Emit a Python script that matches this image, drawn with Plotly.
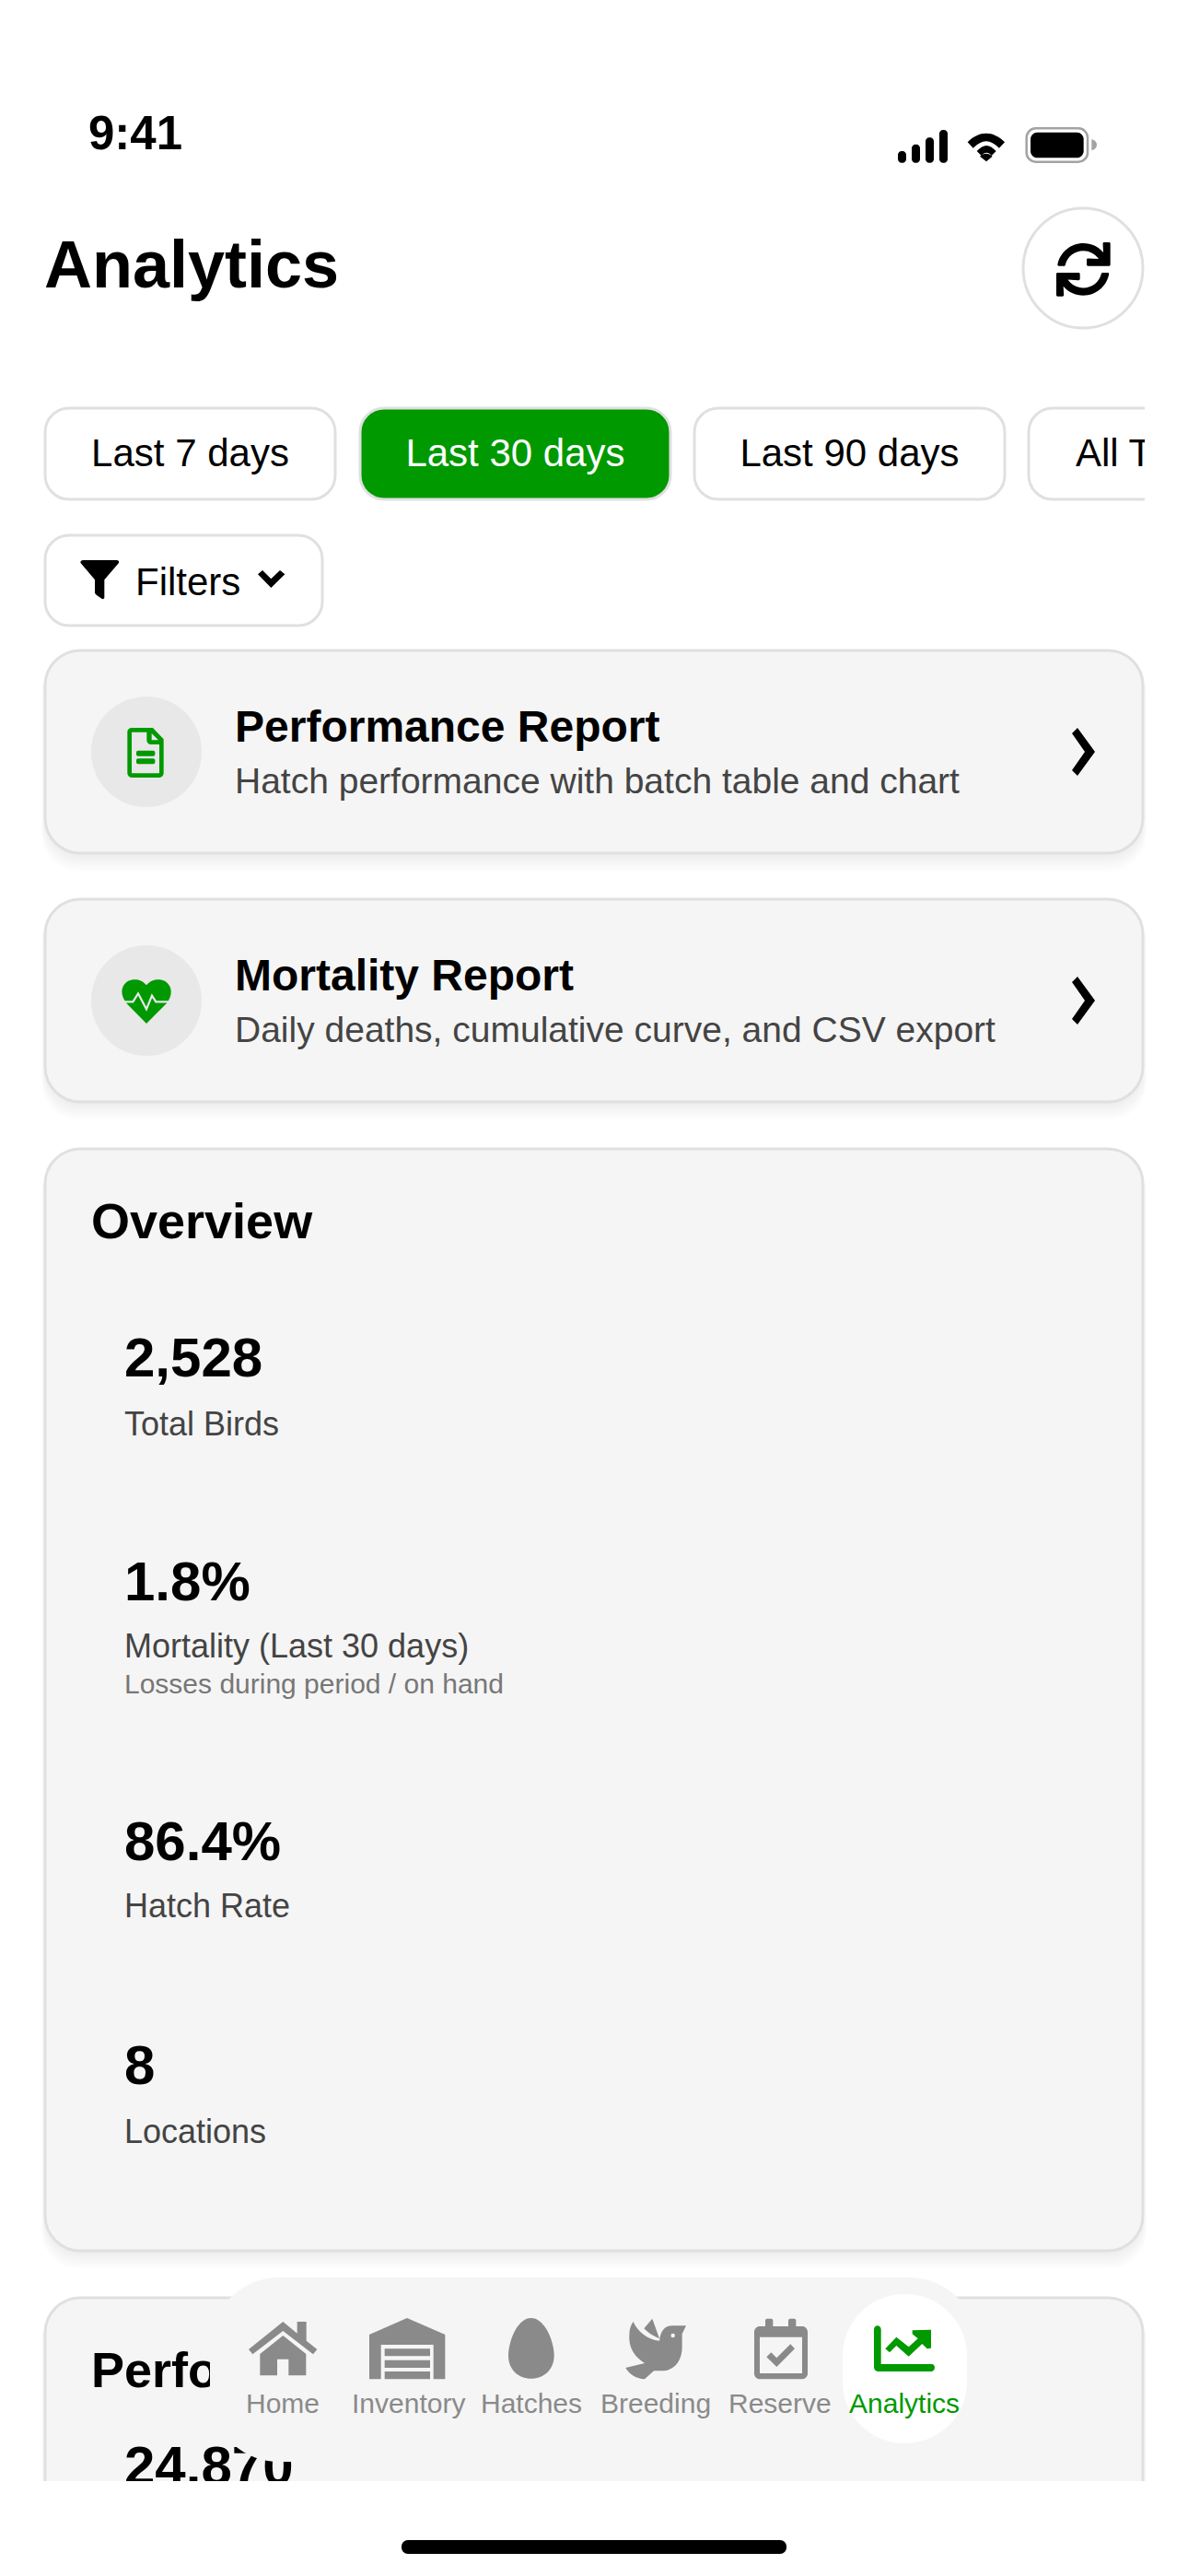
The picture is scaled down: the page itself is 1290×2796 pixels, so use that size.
import re
import plotly.graph_objects as go

FONT = "Liberation Sans"
GREEN = "#009900"
BORDER = "#e0e0e0"
CARD = "#f5f5f5"
NAVGREY = "#8a8a8a"

# ---- content ----
STATUS_TIME = "9:41"
PAGE_TITLE = "Analytics"
RANGE_LABELS = ["Last 7 days", "Last 30 days", "Last 90 days", "All Time"]
FILTER_LABEL = "Filters"
REPORT_TITLES = ["Performance Report", "Mortality Report"]
REPORT_SUBS = ["Hatch performance with batch table and chart",
               "Daily deaths, cumulative curve, and CSV export"]
OVERVIEW_TITLE = "Overview"
KPI_VALUES = ["2,528", "1.8%", "86.4%", "8"]
KPI_LABELS = ["Total Birds", "Mortality (Last 30 days)", "Hatch Rate", "Locations"]
KPI_NOTE = "Losses during period / on hand"
NEXT_TITLE = "Performance"
NEXT_VALUE = "24.870"
NAV_LABELS = ["Home", "Inventory", "Hatches", "Breeding", "Reserve", "Analytics"]

# ---- layout positions (px) ----
W, H = 1290, 2796
CHIP_X = [(49, 364), (391, 728), (754, 1091), (1117, 1400)]
CARD_Y = [(706, 926), (976, 1196)]
KPI_BASE = [1493, 1736, 2018, 2261]
LABEL_BASE = [1557, 1798, 2080, 2325]
NAV_X = [307, 443, 577, 712, 847, 982]

shapes = []


def tx(path, ox, oy, s=1 / 3):
    """Map an absolute M/L/C/Q path from local coordinates to page pixels."""
    nums = iter(range(10 ** 6))

    def rep(m):
        i = next(nums)
        v = float(m.group(0))
        return f"{(ox if i % 2 == 0 else oy) + v * s:.2f}"

    return re.sub(r"-?\d+(?:\.\d+)?", rep, path)


def rr(x0, y0, x1, y1, r):
    k = r * 0.45
    return (f"M{x0 + r} {y0} L{x1 - r} {y0} C{x1 - k} {y0} {x1} {y0 + k} {x1} {y0 + r} "
            f"L{x1} {y1 - r} C{x1} {y1 - k} {x1 - k} {y1} {x1 - r} {y1} "
            f"L{x0 + r} {y1} C{x0 + k} {y1} {x0} {y1 - k} {x0} {y1 - r} "
            f"L{x0} {y0 + r} C{x0} {y0 + k} {x0 + k} {y0} {x0 + r} {y0} Z")


def fill(path, color, layer="below", rule="evenodd"):
    shapes.append(dict(type="path", path=path, fillcolor=color, line_width=0,
                       layer=layer, fillrule=rule, xref="x", yref="y"))


def box(x0, y0, x1, y1, r, color, stroke=None, sw=0, layer="below"):
    d = dict(type="path", path=rr(x0, y0, x1, y1, r), fillcolor=color, layer=layer,
             xref="x", yref="y")
    d["line"] = dict(color=stroke, width=sw) if stroke else dict(width=0)
    shapes.append(d)


def circle(cx, cy, r, color, stroke=None, sw=0, layer="below"):
    d = dict(type="circle", x0=cx - r, x1=cx + r, y0=cy - r, y1=cy + r, fillcolor=color,
             layer=layer, xref="x", yref="y")
    d["line"] = dict(color=stroke, width=sw) if stroke else dict(width=0)
    shapes.append(d)


def card(y0, y1):
    for i in range(9):
        box(49 - i * 0.5, y0 + 4, 1241 + i * 0.5, y1 + 2 + i * 2.2, 40,
            "rgba(0,0,0,0.009)")
    box(49, y0, 1241, y1, 38, CARD, BORDER, 3)


# text via scatter traces
text_rows = []


def T(x, base, s, size, color="#000000", bold=False, align="left"):
    text_rows.append((x, base - 0.235 * size, s, size, color, bold, align))


# ---- status bar ----
T(96, 161, STATUS_TIME, 51, bold=True)
sx, sy = 960, 120
for x0, x1, y0 in [(45, 72, 132), (90, 117, 110), (135, 162, 88), (180, 207, 63)]:
    fill(tx(rr(x0, y0, x1, 170, 12), sx, sy), "#000000")
fill(tx("M272 103 C310 65 355 65 393 103 L375 122 C345 92 320 92 290 122 Z", sx, sy), "#000000")
fill(tx("M302 132 C325 108 342 108 365 132 L350 147 C340 134 328 134 317 147 Z", sx, sy), "#000000")
fill(tx("M333 166 L312 149 C325 137 340 137 353 149 Z", sx, sy), "#000000")
box(960 + 464 / 3, 120 + 58 / 3, 960 + 663 / 3, 120 + 167 / 3, 10, "#ffffff", "#a3a3a3", 2.5)
fill(tx(rr(477, 71, 650, 154, 22), sx, sy), "#000000")
fill(tx("M676 93 C688 97 693 104 693 111 C693 119 688 126 676 130 Z", sx, sy), "#a3a3a3")

# ---- header ----
T(48, 311, PAGE_TITLE, 72, bold=True)
circle(1176, 291, 65, "#ffffff", BORDER, 3)
SYNC = ["M441 13 L445 95 C400 40 330 8 256 8 C134 8 34 95 12 210 C11 218 16 224 24 224 L73 224 "
        "C79 224 84 220 85 215 C103 135 173 80 256 80 C316 80 370 110 402 158 L300 153 "
        "C293 153 288 159 288 165 L288 212 C288 219 293 224 300 224 L500 224 C507 224 512 219 512 212 "
        "L512 12 C512 5 507 0 500 0 L453 0 C446 0 441 6 441 13 Z",
        "M256 432 C196 432 142 402 110 354 L212 359 C219 359 224 353 224 347 L224 300 "
        "C224 293 219 288 212 288 L12 288 C5 288 0 293 0 300 L0 500 C0 507 5 512 12 512 L59 512 "
        "C66 512 71 506 71 499 L67 417 C112 472 181 504 256 504 C377 504 478 417 499 302 "
        "C500 294 495 288 488 288 L439 288 C433 288 428 292 427 297 C408 377 338 432 256 432 Z"]
for p in SYNC:
    fill(tx(p, 1147, 263, 0.1146), "#000000")

# ---- range chips ----
for i, ((x0, x1), lab) in enumerate(zip(CHIP_X, RANGE_LABELS)):
    on = i == 1
    box(x0, 443, x1, 542, 26, GREEN if on else "#ffffff", BORDER, 3)
    T(x0 + (x1 - x0) / 2 if i < 3 else 1168, 505, lab, 42, "#ffffff" if on else "#000000",
      align="center" if i < 3 else "left")

# ---- filter chip ----
box(49, 581, 350, 679, 26, "#ffffff", BORDER, 3)
fo = (40, 570)
fill(tx("M142 122 C142 117 146 114 150 114 L260 114 C265 114 269 118 267 123 L220 178 L220 236 "
        "C220 240 215 242 211 239 L195 228 C191 225 189 222 189 218 L189 178 Z", *fo), "#000000")
fill(tx("M720 160 L735 147 L763 175 L792 147 L808 160 L763 204 Z", *fo), "#000000")
T(147, 645, FILTER_LABEL, 42)

# ---- report cards ----
for (y0, y1), t, s in zip(CARD_Y, REPORT_TITLES, REPORT_SUBS):
    card(y0, y1)
    cy = y0 + 110
    circle(159, cy, 60, "#e8e8e8")
    T(255, cy - 12, t, 48, bold=True)
    T(255, cy + 44, s, 39, "#444444")
    fill(f"M1164 {cy - 20} L1170 {cy - 26} L1189 {cy} L1170 {cy + 26} L1164 {cy + 20} L1178 {cy} Z",
         "#000000")

# document icon
do = (90, 740)
fill(tx("M160 150 L228 150 L263 187 L263 298 C263 306 257 312 249 312 L159 312 C151 312 145 306 145 298 "
        "L145 164 C145 156 151 150 160 150 Z "
        "M159 164 L208 164 L208 190 C208 198 213 204 220 204 L249 204 L249 298 L159 298 Z "
        "M224 168 L246 190 L224 190 Z", *do), GREEN)
fill(tx(rr(174, 224, 235, 242, 6), *do), GREEN)
fill(tx(rr(174, 250, 235, 268, 6), *do), GREEN)

# heart icon
fill(tx("M207 988 C222 968 250 965 268 975 C292 990 294 1022 272 1048 L207 1113 L145 1050 "
        "C120 1022 122 990 146 975 C165 965 192 968 207 988 Z", *do), GREEN)
shapes.append(dict(type="path", layer="below", xref="x", yref="y",
                   path=tx("M130 1042 L163 1042 L180 1015 L207 1066 L225 1022 L238 1042 L284 1042", *do),
                   line=dict(color="#e8e8e8", width=2.2)))

# ---- overview card ----
card(1247, 2443)
T(99, 1343, OVERVIEW_TITLE, 54, bold=True)
for v, l, b1, b2 in zip(KPI_VALUES, KPI_LABELS, KPI_BASE, LABEL_BASE):
    T(135, b1, v, 60, bold=True)
    T(135, b2, l, 36, "#444444")
T(135, 1838, KPI_NOTE, 30, "#777777")

# ---- cut-off next card ----
card(2494, 2760)
T(99, 2590, NEXT_TITLE, 54, bold=True)
T(135, 2696, NEXT_VALUE, 60, bold=True)

# ---- overlays above the text ----
fill(f"M1243 430 L{W} 430 L{W} 560 L1243 560 Z", "#ffffff", layer="above")
fill(f"M0 2693 L{W} 2693 L{W} {H} L0 {H} Z", "#ffffff", layer="above")
fill(rr(436, 2757, 854, 2772, 7), "#000000", layer="above")

# ---- tab bar ----
fill(rr(228, 2472, 1062, 2672, 75), CARD, layer="above")
fill(rr(915, 2490, 1050, 2652, 67), "#ffffff", layer="above")

a = (230, 2470)
fill(tx("M120 240 L232 150 L278 188 L278 150 L308 150 L308 212 L343 240 L330 256 L232 180 L133 256 Z", *a),
     NAVGREY, "above")
fill(tx("M232 195 L307 255 L307 325 L250 325 L250 272 L213 272 L213 325 L157 325 L157 255 Z", *a),
     NAVGREY, "above")
fill(tx("M636 138 L760 192 L760 337 L722 337 L722 225 L551 225 L551 337 L513 337 L513 192 Z", *a),
     NAVGREY, "above")
for y0, y1 in [(238, 262), (275, 300), (312, 337)]:
    fill(tx(f"M563 {y0} L711 {y0} L711 {y1} L563 {y1} Z", *a), NAVGREY, "above")
fill(tx("M1040 138 C1085 138 1115 215 1115 260 C1115 305 1082 335 1040 335 "
        "C998 335 966 305 966 260 C966 215 995 138 1040 138 Z", *a), NAVGREY, "above")

b = (640, 2470)
fill(tx("M178 172 L205 140 L228 205 C205 195 190 185 178 172 Z", *b), NAVGREY, "above")
fill(tx("M143 150 C155 180 190 210 228 212 C232 180 245 163 270 163 L315 163 L302 190 L302 230 "
        "C302 280 275 310 235 310 L210 310 L180 337 C150 335 130 320 118 300 L180 285 "
        "C150 265 128 240 130 195 C130 175 135 160 143 150 Z", *b), NAVGREY, "above")
circle(640 + 272 / 3, 2470 + 195 / 3, 2.2, CARD, layer="above")
fill(tx(rr(537, 165, 711, 337, 18) + " M555 200 L693 200 L693 318 L555 318 Z", *b), NAVGREY, "above")
fill(tx(rr(573, 140, 598, 180, 6), *b), NAVGREY, "above")
fill(tx(rr(648, 140, 673, 180, 6), *b), NAVGREY, "above")
fill(tx("M577 265 L592 250 L610 268 L655 223 L669 238 L610 297 Z", *b), NAVGREY, "above")
fill(tx("M938 163 C945 163 950 168 950 175 L950 288 L1115 288 C1122 288 1125 293 1125 300 "
        "C1125 307 1120 312 1113 312 L940 312 C932 312 927 306 927 298 L927 175 C927 168 932 163 938 163 Z",
        *b), GREEN, "above")
fill(tx("M964 238 L1000 200 L1040 232 L1070 205 L1052 190 L1052 178 L1113 176 L1113 236 L1100 238 "
        "L1084 222 L1040 263 L1000 228 L978 250 Z", *b), GREEN, "above")

annotations = []
for x, lab in zip(NAV_X, NAV_LABELS):
    annotations.append(dict(x=x, y=2608, xref="x", yref="y", text=lab, showarrow=False,
                            xanchor="center", yanchor="middle",
                            font=dict(family=FONT, size=30,
                                      color=GREEN if lab == "Analytics" else NAVGREY)))

# ---- build ----
fig = go.Figure()
for x, y, s, size, color, bold, align in text_rows:
    fig.add_trace(go.Scatter(
        x=[x], y=[y], text=[s], mode="text", hoverinfo="skip", showlegend=False,
        textposition="middle right" if align == "left" else "middle center",
        textfont=dict(family=FONT, size=size, color=color, weight="bold" if bold else "normal"),
    ))

fig.update_layout(
    width=W, height=H, margin=dict(l=0, r=0, t=0, b=0),
    paper_bgcolor="#ffffff", plot_bgcolor="#ffffff", showlegend=False,
    xaxis=dict(range=[0, W], visible=False, fixedrange=True),
    yaxis=dict(range=[H, 0], visible=False, fixedrange=True),
    shapes=shapes, annotations=annotations,
)
fig.write_html("out.html", config={"displayModeBar": False, "staticPlot": True},
               post_script="document.body.style.margin='0';"
                           "document.documentElement.style.overflow='hidden';")
